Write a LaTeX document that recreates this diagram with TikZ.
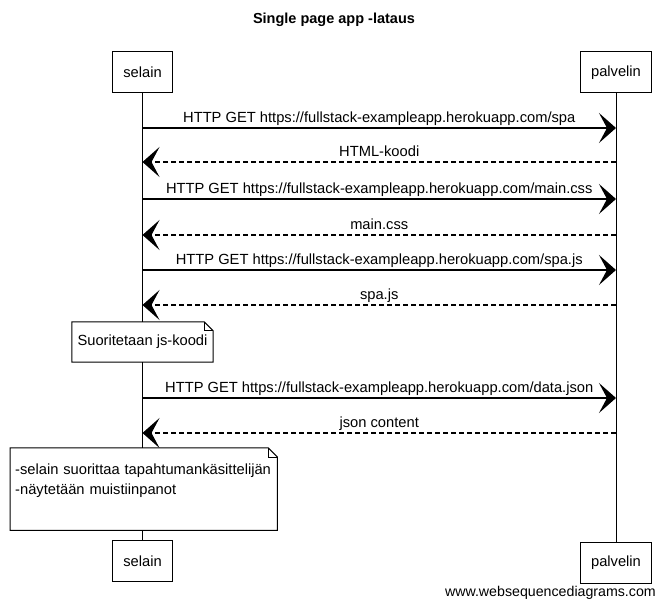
\documentclass[tikz,border=0pt]{standalone}
\usepackage{fontspec}
\setmainfont{Liberation Sans}
\usetikzlibrary{arrows.meta,positioning,calc}

\begin{document}
\begin{tikzpicture}[
    x=1pt, y=1pt,
    txt/.style={font=\fontsize{14.7}{20}\selectfont},
    actor/.style={txt, draw, line width=1pt, fill=white, inner xsep=10.5pt, minimum height=41pt},
    note/.style={txt, fill=white, inner ysep=0pt},
    msg/.style={-{Stealth[length=17pt, width=30pt, inset=8pt]}, line width=1.1pt},
    reply/.style={msg, dash pattern=on 5pt off 3pt},
    lbl/.style={txt, midway, anchor=base, yshift=5pt, inner sep=0pt}
]
\useasboundingbox (0,0) rectangle (665,-609);

\node[font=\fontsize{14.5}{17}\selectfont\bfseries] (title) at (334,-20) {Single page app -lataus};

\node[actor] (s1) at (142.5,-72.5) {selain};
\node[actor] (p1) at (616,-72.5) {palvelin};
\node[actor] (s2) at (142.5,-561.5) {selain};
\node[actor] (p2) at (616,-563) {palvelin};

\draw[line width=1pt] (s1) -- (s2);
\draw[line width=1pt] (p1) -- (p2);

\draw[msg] (s1 |- 0,-128) -- (p1 |- 0,-128) node[lbl] {HTTP GET https://fullstack-exampleapp.herokuapp.com/spa};
\draw[reply] (p1 |- 0,-162) -- (s1 |- 0,-162) node[lbl] {HTML-koodi};
\draw[msg] (s1 |- 0,-199) -- (p1 |- 0,-199) node[lbl] {HTTP GET https://fullstack-exampleapp.herokuapp.com/main.css};
\draw[reply] (p1 |- 0,-235) -- (s1 |- 0,-235) node[lbl] {main.css};
\draw[msg] (s1 |- 0,-270) -- (p1 |- 0,-270) node[lbl] {HTTP GET https://fullstack-exampleapp.herokuapp.com/spa.js};
\draw[reply] (p1 |- 0,-305) -- (s1 |- 0,-305) node[lbl] {spa.js};

% note after spa.js
\node[note, minimum width=141pt, minimum height=40pt] (n1) at (142.5,-342) {Suoritetaan js-koodi};
\draw[line width=1pt] (n1.north west) -- ([xshift=-9pt]n1.north east) -- ([yshift=-9pt]n1.north east) -- (n1.south east) -- (n1.south west) -- cycle;
\draw[line width=0.8pt] ([xshift=-9pt]n1.north east) -- ++(0,-9) -- ([yshift=-9pt]n1.north east);

\draw[msg] (s1 |- 0,-398) -- (p1 |- 0,-398) node[lbl] {HTTP GET https://fullstack-exampleapp.herokuapp.com/data.json};
\draw[reply] (p1 |- 0,-433) -- (s1 |- 0,-433) node[lbl] {json content};

\node[note, anchor=north west, text width=257pt, inner xsep=5pt, minimum height=82pt, align=left] (n2) at (10,-448)
    {\hyphenpenalty=10000 -selain suorittaa tapahtumankäsittelijän\\-näytetään muistiinpanot\\\mbox{}};
\draw[line width=1pt] (n2.north west) -- ([xshift=-9pt]n2.north east) -- ([yshift=-9pt]n2.north east) -- (n2.south east) -- (n2.south west) -- cycle;
\draw[line width=0.8pt] ([xshift=-9pt]n2.north east) -- ++(0,-9) -- ([yshift=-9pt]n2.north east);

\node[font=\fontsize{14.2}{17}\selectfont, anchor=east, inner sep=0pt] (web) at (656,-593) {www.websequencediagrams.com};
\end{tikzpicture}
\end{document}
